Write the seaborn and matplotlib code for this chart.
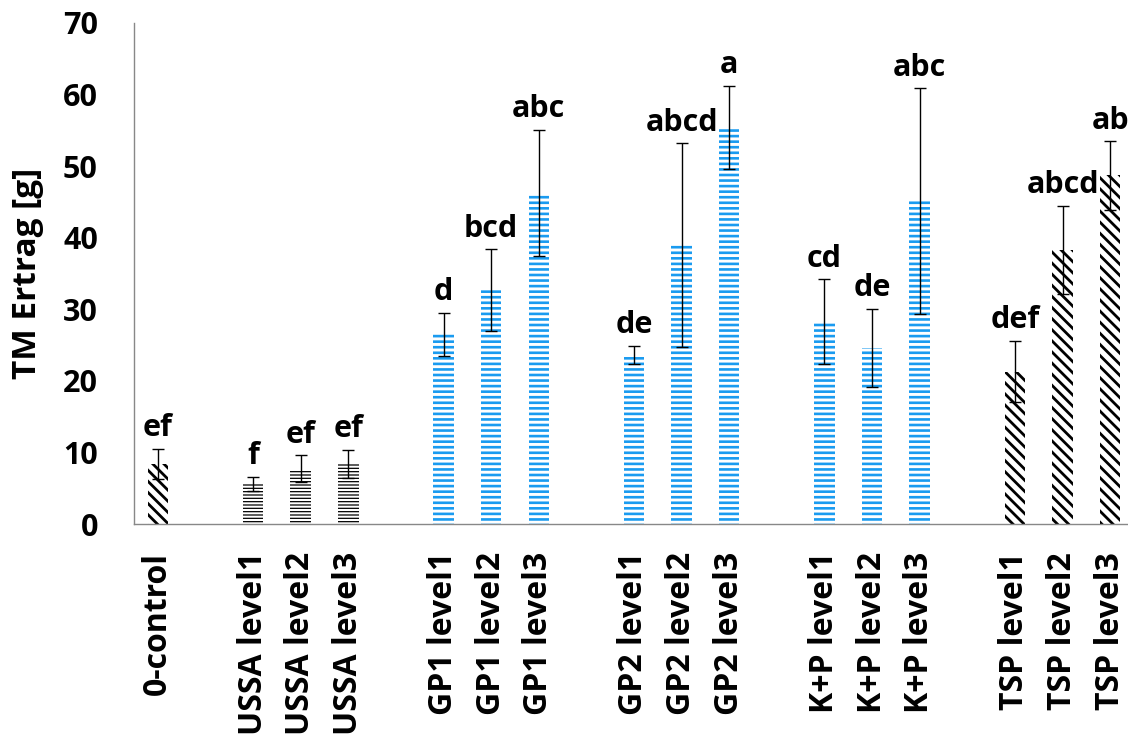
import numpy as np
import pandas as pd
import matplotlib
matplotlib.use("Agg")
import matplotlib.pyplot as plt
import seaborn as sns

# Werte
labels = ["0-control",
          "USSA level1", "USSA level2", "USSA level3",
          "GP1 level1", "GP1 level2", "GP1 level3",
          "GP2 level1", "GP2 level2", "GP2 level3",
          "K+P level1", "K+P level2", "K+P level3",
          "TSP level1", "TSP level2", "TSP level3"]
gruppe = ["control", "USSA", "USSA", "USSA",
          "GP1", "GP1", "GP1", "GP2", "GP2", "GP2",
          "K+P", "K+P", "K+P", "TSP", "TSP", "TSP"]
slot = [0, 2, 3, 4, 6, 7, 8, 10, 11, 12, 14, 15, 16, 18, 19, 20]
ertrag = [8.4, 5.6, 7.7, 8.4, 26.5, 32.7, 46.3, 23.6, 39.0, 55.4,
          28.3, 24.6, 45.1, 21.3, 38.3, 48.7]
fehler = [2.1, 1.0, 1.9, 2.0, 3.0, 5.7, 8.8, 1.3, 14.2, 5.8,
          5.9, 5.5, 15.8, 4.3, 6.2, 4.8]
buchstaben = ["ef", "f", "ef", "ef", "d", "bcd", "abc", "de", "abcd", "a",
              "cd", "de", "abc", "def", "abcd", "ab"]

df = pd.DataFrame({"slot": slot, "ertrag": ertrag, "fehler": fehler,
                   "label": labels, "gruppe": gruppe, "buchstabe": buchstaben})

sns.set_style("white")
plt.rcParams["font.family"] = ["Open Sans", "DejaVu Sans"]
plt.rcParams["font.weight"] = "bold"
plt.rcParams["text.color"] = "black"
plt.rcParams["axes.labelcolor"] = "black"
plt.rcParams["xtick.labelcolor"] = "black"
plt.rcParams["ytick.labelcolor"] = "black"

GRAU = "#888888"
BLAU = "#1a9bf0"

fig = plt.figure(figsize=(11.28, 7.4), dpi=100)
ax = fig.add_axes([134 / 1128, 216 / 740, 1000 / 1128, 501 / 740])

sns.barplot(data=df, x="slot", y="ertrag", native_scale=True, width=0.43,
            errorbar=None, color="white", ax=ax)

# Schraffur je Gruppe
stile = {
    "control": ("\\\\\\", "black", 2.0),
    "USSA": ("-----", "black", 0.9),
    "GP1": ("---", BLAU, 1.9),
    "GP2": ("---", BLAU, 1.9),
    "K+P": ("---", BLAU, 1.9),
    "TSP": ("\\\\\\", "black", 2.0),
}
for patch, g in zip(ax.patches, df["gruppe"]):
    hatch, farbe, lw = stile[g]
    patch.set_facecolor("white")
    patch.set_edgecolor(farbe)
    patch.set_linewidth(0)
    patch.set_hatch(hatch)
    if hasattr(patch, "set_hatch_linewidth"):
        patch.set_hatch_linewidth(lw)

ax.errorbar(df["slot"], df["ertrag"], yerr=df["fehler"], fmt="none",
            ecolor="black", elinewidth=1.0, capsize=4, capthick=1.0, zorder=5)

for _, r in df.iterrows():
    ax.annotate(r["buchstabe"], (r["slot"], r["ertrag"] + r["fehler"]),
                xytext=(0, 9), textcoords="offset points", ha="center",
                va="baseline", fontsize=22, fontweight="bold", color="black")

ax.set_xlim(-0.5, 20.5)
ax.set_ylim(0, 70)
ax.set_yticks(np.arange(0, 71, 10))
ax.set_xticks(df["slot"])
ax.set_xticklabels(df["label"], rotation=90, fontsize=23, fontweight="bold")
ax.set_xticks(np.arange(-0.5, 21, 1), minor=True)
ax.tick_params(axis="x", which="major", length=0, pad=20)
ax.tick_params(axis="x", which="minor", length=12, width=1, color=GRAU, direction="out")
ax.tick_params(axis="y", length=8, width=1, color=GRAU, direction="out", pad=18,
               labelsize=22)
for t in ax.get_yticklabels():
    t.set_fontweight("bold")

ax.set_xlabel("")
ax.set_ylabel("TM Ertrag [g]", fontsize=24, fontweight="bold")
ax.yaxis.set_label_coords(-0.09, 0.5)

for s in ["top", "right"]:
    ax.spines[s].set_visible(False)
for s in ["left", "bottom"]:
    ax.spines[s].set_color(GRAU)
    ax.spines[s].set_linewidth(1)

fig.savefig("out.png", dpi=100)
